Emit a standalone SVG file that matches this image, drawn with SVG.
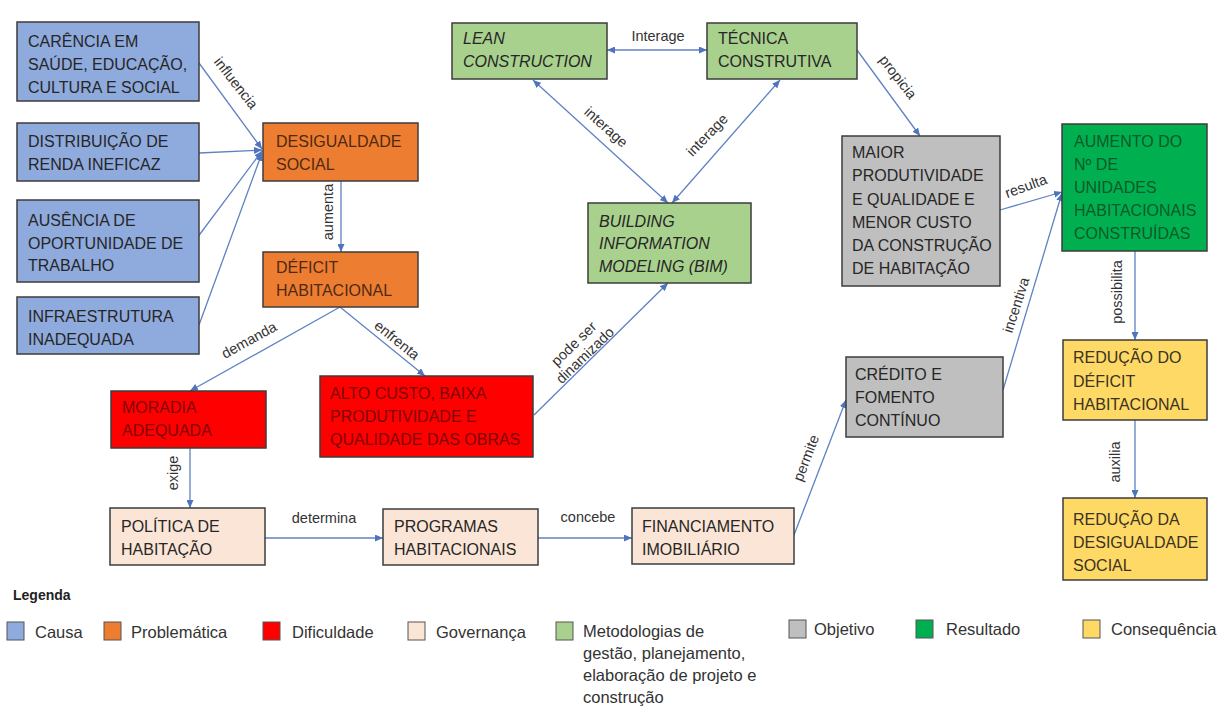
<svg xmlns="http://www.w3.org/2000/svg" width="1226" height="711" viewBox="0 0 1226 711">
  <defs>
    <marker id="arrow" viewBox="0 0 8 7" refX="8" refY="3.5" markerWidth="8" markerHeight="7" markerUnits="userSpaceOnUse" orient="auto-start-reverse">
      <path d="M0,0 L8,3.5 L0,7 z" fill="#4f74bd"/>
    </marker>
    <style>
      .box { stroke: #3d3d3d; stroke-width: 1.5; }
      .causa { fill: #8faadc; }
      .prob { fill: #ed7d31; }
      .dif { fill: #ff0000; }
      .gov { fill: #fbe5d6; }
      .met { fill: #a9d18e; }
      .obj { fill: #bfbfbf; }
      .res { fill: #00b050; }
      .cons { fill: #ffd966; }
      .t { font-family: "Liberation Sans", Arial, sans-serif; font-size: 16px; fill: #262626; }
      .ti { font-style: italic; }
      .t-prob { fill: #4f2a12; }
      .t-dif { fill: #7e0404; }
      .t-res { fill: #0d5a28; }
      .t-cons { fill: #3a3222; }
      .edge { stroke: #5f82c4; stroke-width: 1.3; fill: none; marker-end: url(#arrow); }
      .both { marker-start: url(#arrow); }
      .lbl { font-family: "Liberation Sans", Arial, sans-serif; font-size: 14.5px; fill: #333; text-anchor: middle; dominant-baseline: central; }
      .leg { font-family: "Liberation Sans", Arial, sans-serif; font-size: 16.5px; fill: #333; }
      .sw { stroke: #555; stroke-width: 1; }
    </style>
  </defs>

  <rect width="1226" height="711" fill="#ffffff"/>

  <!-- connectors -->
  <g id="connectors">
    <path class="edge" d="M199,63 L262,149"/>
    <path class="edge" d="M199,153 L262,150"/>
    <path class="edge" d="M197,238 L262,151"/>
    <path class="edge" d="M199,325 L262,153"/>
    <path class="edge" d="M341,181 L341,252"/>
    <path class="edge" d="M340,307 L190,391"/>
    <path class="edge" d="M340,307 L425,376"/>
    <path class="edge" d="M190,448 L190,508"/>
    <path class="edge" d="M265,538 L383,538"/>
    <path class="edge" d="M538,538 L632,538"/>
    <path class="edge" d="M794,535 L846,400"/>
    <path class="edge" d="M534,415 L668,283"/>
    <path class="edge both" d="M607,50 L707,50"/>
    <path class="edge both" d="M533,80 L668,203"/>
    <path class="edge both" d="M780,80 L672,203"/>
    <path class="edge" d="M857,50 L920,136"/>
    <path class="edge" d="M1000,210 L1062,192"/>
    <path class="edge" d="M1003,390 L1062,193"/>
    <path class="edge" d="M1135,251 L1135,340"/>
    <path class="edge" d="M1135,420 L1135,498"/>

    <text class="lbl" transform="translate(236,83) rotate(52)">influencia</text>
    <text class="lbl" transform="translate(328,212) rotate(-90)">aumenta</text>
    <text class="lbl" transform="translate(249,340) rotate(-29)">demanda</text>
    <text class="lbl" transform="translate(397,340) rotate(39)">enfrenta</text>
    <text class="lbl" transform="translate(173,473) rotate(-90)">exige</text>
    <text class="lbl" x="324" y="518">determina</text>
    <text class="lbl" x="588" y="517">concebe</text>
    <text class="lbl" transform="translate(806,458) rotate(-69)">permite</text>
    <g transform="translate(578,348) rotate(-44)">
      <text class="lbl" x="0" y="-6">pode ser</text>
      <text class="lbl" x="0" y="10">dinamizado</text>
    </g>
    <text class="lbl" x="658" y="36">Interage</text>
    <text class="lbl" transform="translate(606,127) rotate(42)">interage</text>
    <text class="lbl" transform="translate(707,135) rotate(-46)">interage</text>
    <text class="lbl" transform="translate(898,77) rotate(52)">propicia</text>
    <text class="lbl" transform="translate(1026,186) rotate(-20)">resulta</text>
    <text class="lbl" transform="translate(1016,305) rotate(-72)">incentiva</text>
    <text class="lbl" transform="translate(1117,292) rotate(-90)">possibilita</text>
    <text class="lbl" transform="translate(1115,462) rotate(-90)">auxilia</text>
  </g>

  <!-- causes -->
  <g id="carencia">
    <rect class="box causa" x="17" y="22" width="182" height="79"/>
    <text class="t"><tspan x="28" y="47">CARÊNCIA EM</tspan><tspan x="28" y="70">SAÚDE, EDUCAÇÃO,</tspan><tspan x="28" y="93">CULTURA E SOCIAL</tspan></text>
  </g>
  <g id="distribuicao">
    <rect class="box causa" x="17" y="123" width="182" height="58"/>
    <text class="t"><tspan x="28" y="147">DISTRIBUIÇÃO DE</tspan><tspan x="28" y="170">RENDA INEFICAZ</tspan></text>
  </g>
  <g id="ausencia">
    <rect class="box causa" x="17" y="200" width="182" height="82"/>
    <text class="t"><tspan x="28" y="226">AUSÊNCIA DE</tspan><tspan x="28" y="249">OPORTUNIDADE DE</tspan><tspan x="28" y="271">TRABALHO</tspan></text>
  </g>
  <g id="infraestrutura">
    <rect class="box causa" x="17" y="297" width="182" height="57"/>
    <text class="t"><tspan x="28" y="322">INFRAESTRUTURA</tspan><tspan x="28" y="345">INADEQUADA</tspan></text>
  </g>

  <!-- problems -->
  <g id="desigualdade">
    <rect class="box prob" x="263" y="123" width="155" height="58"/>
    <text class="t t-prob"><tspan x="276" y="147">DESIGUALDADE</tspan><tspan x="276" y="170">SOCIAL</tspan></text>
  </g>
  <g id="deficit">
    <rect class="box prob" x="263" y="252" width="155" height="55"/>
    <text class="t t-prob"><tspan x="276" y="273">DÉFICIT</tspan><tspan x="276" y="296">HABITACIONAL</tspan></text>
  </g>

  <!-- difficulties -->
  <g id="moradia">
    <rect class="box dif" x="111" y="391" width="155" height="57"/>
    <text class="t t-dif"><tspan x="122" y="413">MORADIA</tspan><tspan x="122" y="436">ADEQUADA</tspan></text>
  </g>
  <g id="alto-custo">
    <rect class="box dif" x="320" y="376" width="213" height="81"/>
    <text class="t t-dif"><tspan x="330" y="399">ALTO CUSTO, BAIXA</tspan><tspan x="330" y="422">PRODUTIVIDADE E</tspan><tspan x="330" y="445">QUALIDADE DAS OBRAS</tspan></text>
  </g>

  <!-- governance -->
  <g id="politica">
    <rect class="box gov" x="110" y="508" width="155" height="57"/>
    <text class="t"><tspan x="121" y="532">POLÍTICA DE</tspan><tspan x="121" y="555">HABITAÇÃO</tspan></text>
  </g>
  <g id="programas">
    <rect class="box gov" x="383" y="509" width="155" height="56"/>
    <text class="t"><tspan x="394" y="532">PROGRAMAS</tspan><tspan x="394" y="555">HABITACIONAIS</tspan></text>
  </g>
  <g id="financiamento">
    <rect class="box gov" x="632" y="508" width="162" height="56"/>
    <text class="t"><tspan x="642" y="532">FINANCIAMENTO</tspan><tspan x="642" y="555">IMOBILIÁRIO</tspan></text>
  </g>

  <!-- methodologies -->
  <g id="lean">
    <rect class="box met" x="452" y="23" width="155" height="56"/>
    <text class="t ti"><tspan x="463" y="44">LEAN</tspan><tspan x="463" y="67">CONSTRUCTION</tspan></text>
  </g>
  <g id="tecnica">
    <rect class="box met" x="707" y="23" width="150" height="56"/>
    <text class="t"><tspan x="718" y="44">TÉCNICA</tspan><tspan x="718" y="67">CONSTRUTIVA</tspan></text>
  </g>
  <g id="bim">
    <rect class="box met" x="588" y="203" width="163" height="80"/>
    <text class="t ti"><tspan x="599" y="227">BUILDING</tspan><tspan x="599" y="249">INFORMATION</tspan><tspan x="599" y="272">MODELING (BIM)</tspan></text>
  </g>

  <!-- objectives -->
  <g id="maior-produtividade">
    <rect class="box obj" x="842" y="136" width="158" height="150"/>
    <text class="t"><tspan x="852" y="158">MAIOR</tspan><tspan x="852" y="181">PRODUTIVIDADE</tspan><tspan x="852" y="205">E QUALIDADE E</tspan><tspan x="852" y="228">MENOR CUSTO</tspan><tspan x="852" y="251">DA CONSTRUÇÃO</tspan><tspan x="852" y="274">DE HABITAÇÃO</tspan></text>
  </g>
  <g id="credito">
    <rect class="box obj" x="846" y="357" width="157" height="80"/>
    <text class="t"><tspan x="855" y="380">CRÉDITO E</tspan><tspan x="855" y="403">FOMENTO</tspan><tspan x="855" y="426">CONTÍNUO</tspan></text>
  </g>

  <!-- result -->
  <g id="aumento">
    <rect class="box res" x="1062" y="124" width="145" height="127"/>
    <text class="t t-res"><tspan x="1074" y="147">AUMENTO DO</tspan><tspan x="1074" y="170">Nº DE</tspan><tspan x="1074" y="193">UNIDADES</tspan><tspan x="1074" y="216">HABITACIONAIS</tspan><tspan x="1074" y="239">CONSTRUÍDAS</tspan></text>
  </g>

  <!-- consequences -->
  <g id="reducao-deficit">
    <rect class="box cons" x="1063" y="340" width="144" height="80"/>
    <text class="t t-cons"><tspan x="1073" y="363">REDUÇÃO DO</tspan><tspan x="1073" y="387">DÉFICIT</tspan><tspan x="1073" y="410">HABITACIONAL</tspan></text>
  </g>
  <g id="reducao-desigualdade">
    <rect class="box cons" x="1063" y="498" width="144" height="82"/>
    <text class="t t-cons"><tspan x="1073" y="525">REDUÇÃO DA</tspan><tspan x="1073" y="548">DESIGUALDADE</tspan><tspan x="1073" y="571">SOCIAL</tspan></text>
  </g>

  <!-- legend -->
  <g id="legend">
    <text x="13" y="600" font-family="'Liberation Sans', Arial, sans-serif" font-size="14" font-weight="bold" fill="#222">Legenda</text>
    <rect class="sw causa" x="7" y="622" width="17" height="18"/>
    <text class="leg" x="35" y="638">Causa</text>
    <rect class="sw prob" x="104" y="622" width="17" height="18"/>
    <text class="leg" x="131" y="638">Problemática</text>
    <rect class="sw dif" x="263" y="622" width="17" height="18"/>
    <text class="leg" x="292" y="638">Dificuldade</text>
    <rect class="sw gov" x="408" y="622" width="17" height="18"/>
    <text class="leg" x="436" y="638">Governança</text>
    <rect class="sw met" x="556" y="622" width="17" height="18"/>
    <text class="leg"><tspan x="583" y="637">Metodologias de</tspan><tspan x="583" y="659">gestão, planejamento,</tspan><tspan x="583" y="681">elaboração de projeto e</tspan><tspan x="583" y="703">construção</tspan></text>
    <rect class="sw obj" x="789" y="620" width="17" height="18"/>
    <text class="leg" x="814" y="635">Objetivo</text>
    <rect class="sw res" x="916" y="620" width="17" height="18"/>
    <text class="leg" x="946" y="635">Resultado</text>
    <rect class="sw cons" x="1083" y="620" width="17" height="18"/>
    <text class="leg" x="1111" y="635">Consequência</text>
  </g>
</svg>
